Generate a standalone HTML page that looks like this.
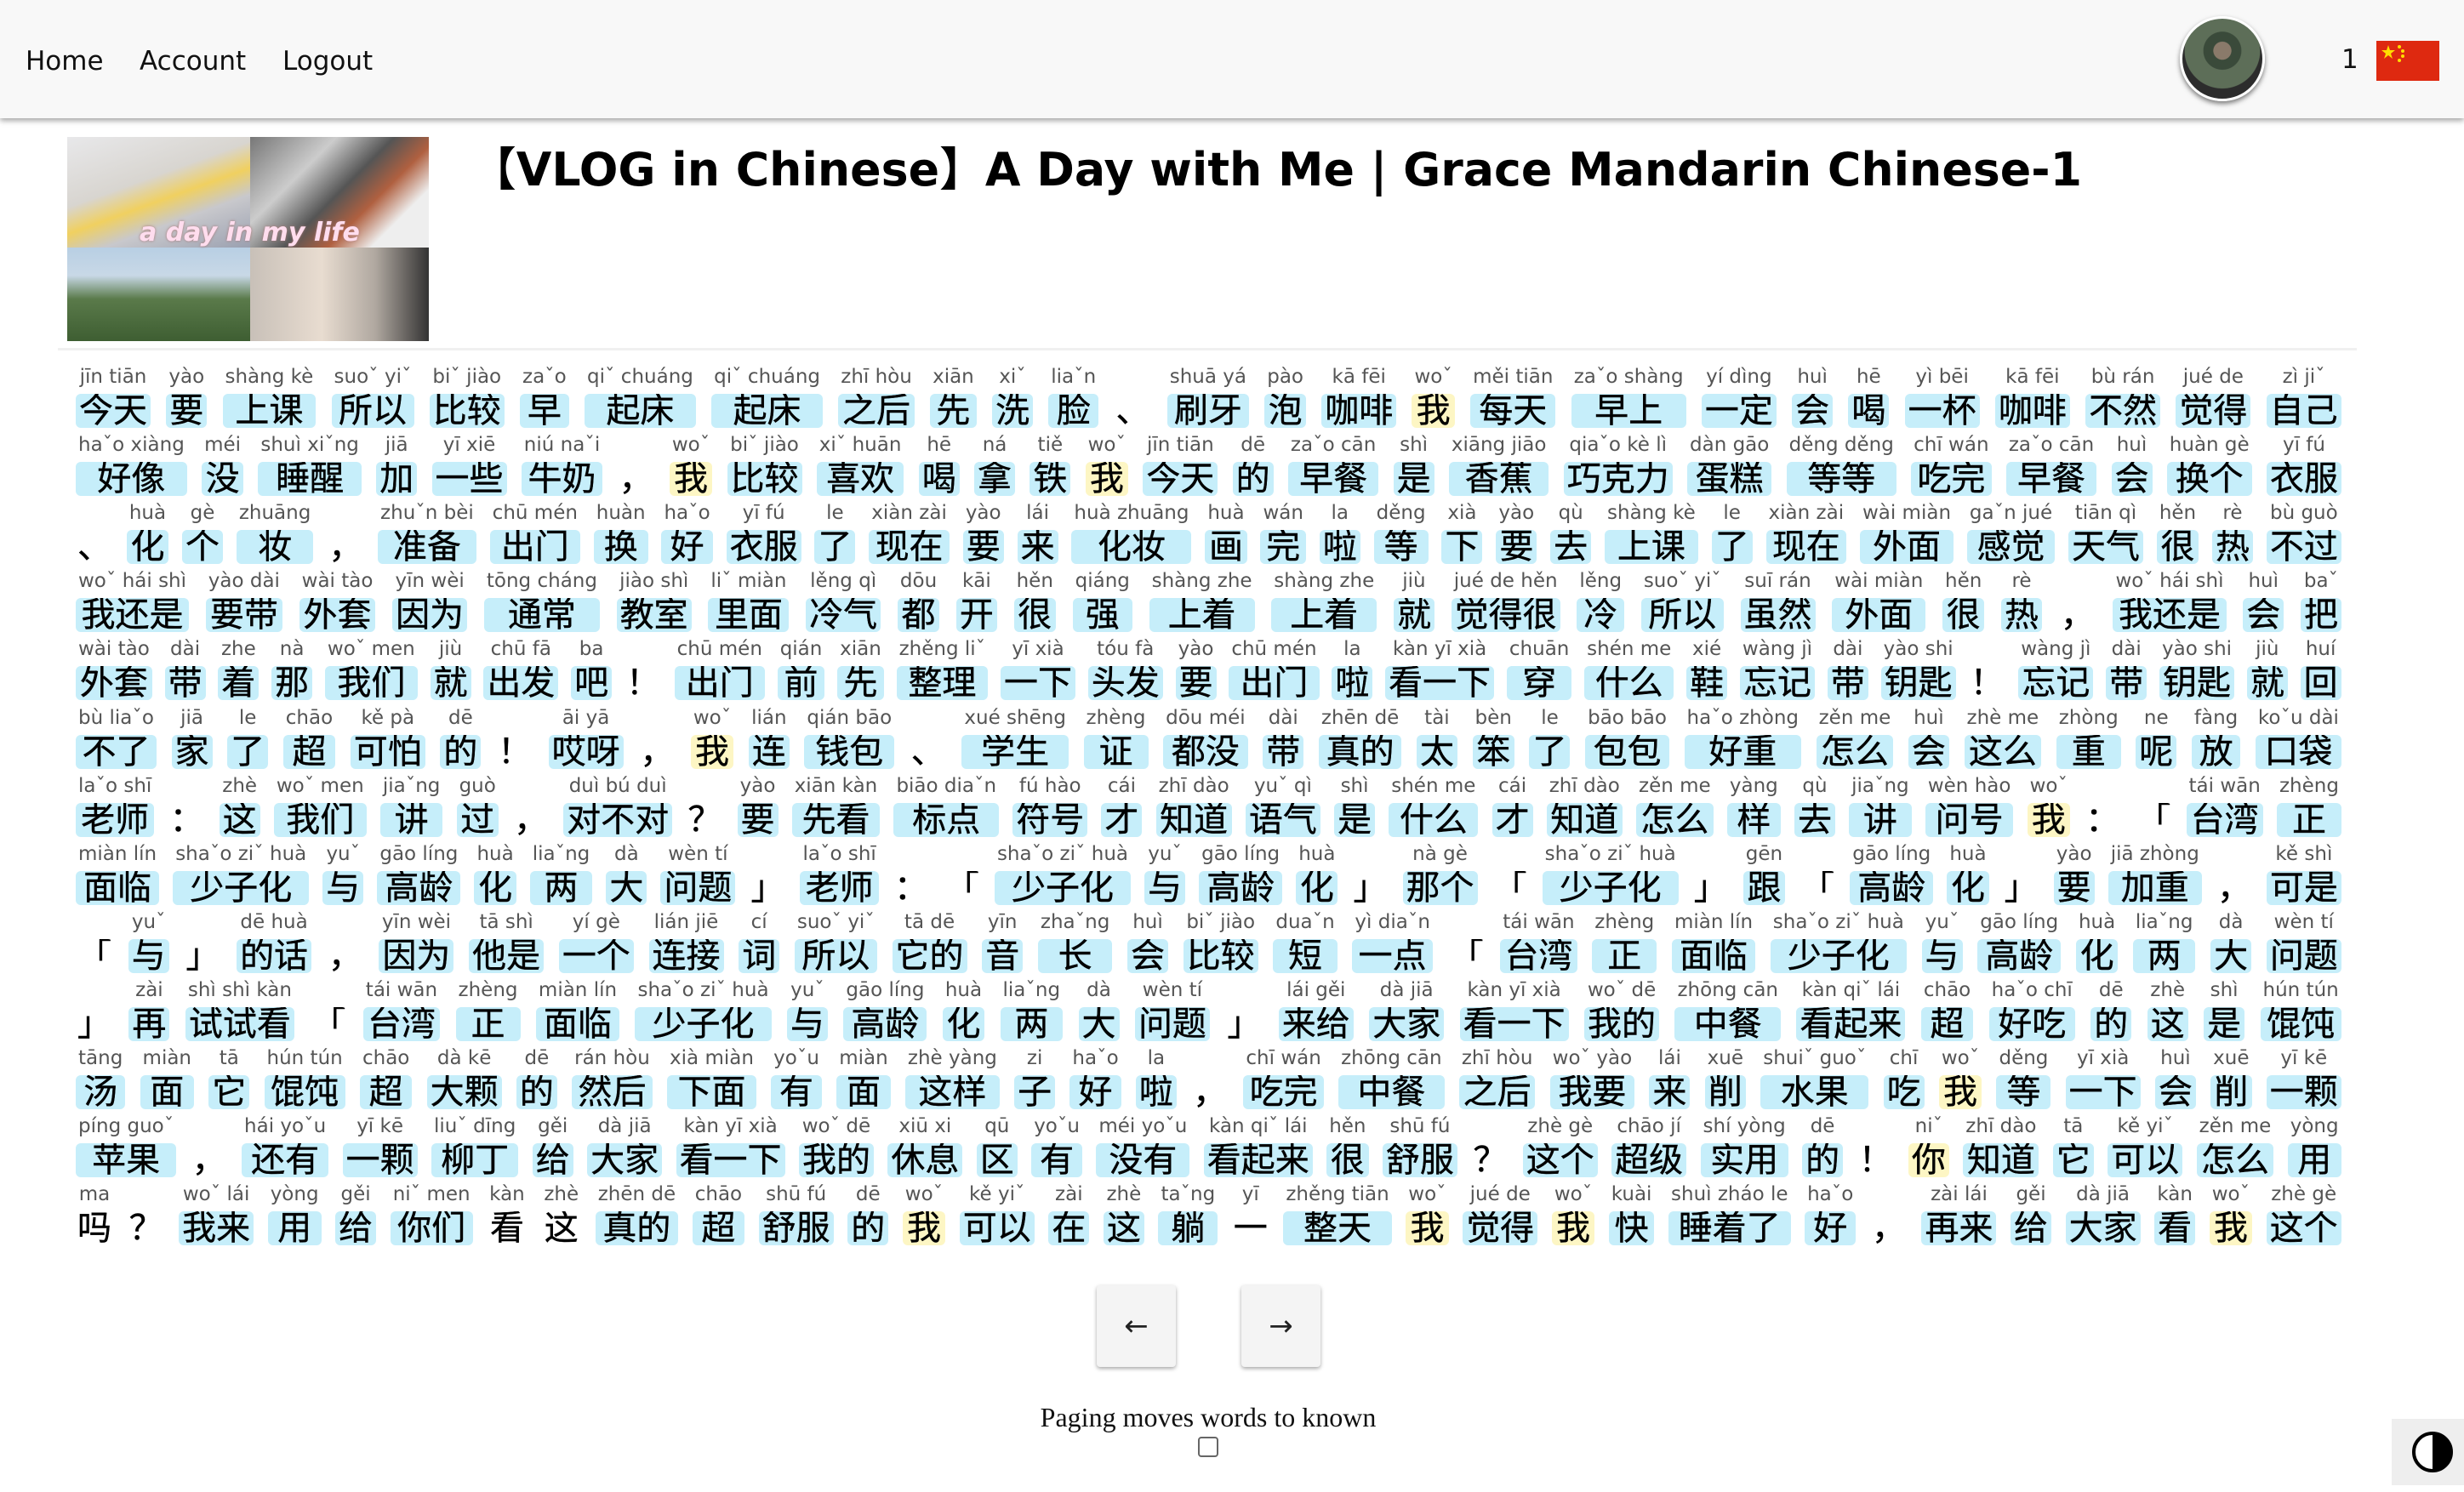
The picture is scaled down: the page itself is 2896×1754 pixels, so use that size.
<!DOCTYPE html>
<html><head><meta charset="utf-8">
<style>
*{box-sizing:border-box;margin:0;padding:0}
html,body{width:2896px;height:1754px;overflow:hidden;background:#fff;position:relative;font-family:"DejaVu Sans","Liberation Sans",sans-serif}
#hdr{position:absolute;left:0;top:0;width:2896px;height:139px;background:#f8f8f8;box-shadow:0 3px 6px rgba(0,0,0,.35)}
.nav{position:absolute;top:54px;font:31px "DejaVu Sans",sans-serif;color:#111;text-decoration:none}
#avatar{position:absolute;left:2562px;top:19px;width:100px;height:100px;border-radius:50%;background:radial-gradient(circle at 50% 40%,#8a7a6a 0 14%,#3a4a3a 15% 30%,#5d6e58 31% 60%,#2c2c2c 61%);border:3px solid #fff;box-shadow:0 3px 6px rgba(0,0,0,.5)}
#count{position:absolute;left:2752px;top:52px;font:31px "DejaVu Sans",sans-serif;color:#111}
#flag{position:absolute;left:2793px;top:48px;width:74px;height:47px;background:#de2910}
#thumb{position:absolute;left:79px;top:161px;width:425px;height:240px;overflow:hidden;background:#ddd}
#sep{position:absolute;left:68px;top:409px;width:2702px;height:3px;background:#f0f0f0}
.row{position:absolute;left:89px;width:2663px;height:80px;display:flex;justify-content:space-between}
.w{display:flex;flex-direction:column;align-items:center}
.w i{font-style:normal;font-family:"DejaVu Sans",sans-serif;font-size:23px;color:#555;height:37px;line-height:37px;white-space:nowrap;padding:0 3px}
.w b{font-weight:normal;font-family:"Liberation Sans","Noto Sans CJK SC",sans-serif;font-size:40px;line-height:40px;height:40px;background:#c6eefa;border-radius:6px;padding:0 4px;align-self:stretch;text-align:center;white-space:nowrap;color:#000;margin-top:1px;overflow:hidden;-webkit-text-stroke:0.4px #000}
.w.y b{background:#fdf6c4}
.w.p b{background:none;padding:0 2px}
.btn{position:absolute;top:1511px;width:93px;height:96px;background:#f4f4f4;border-radius:4px;box-shadow:0 2px 5px rgba(0,0,0,.35);font:34px "DejaVu Sans",sans-serif;text-align:center;line-height:96px;color:#222}
#paging{position:absolute;left:0;width:2840px;top:1648px;text-align:center;font:32px "Liberation Serif",serif;color:#111}
#chk{position:absolute;left:1408px;top:1689px;width:24px;height:24px;border:2px solid #666;border-radius:4px;background:#fff}
#dark{position:absolute;left:2811px;top:1668px;width:85px;height:78px;background:#eee}
#dark span{position:absolute;left:24px;top:15px;width:48px;height:48px;border-radius:50%;border:4px solid #000;background:linear-gradient(90deg,#fff 50%,#000 50%)}
</style></head><body>
<div id="hdr">
<a class="nav" style="left:30px">Home</a>
<a class="nav" style="left:164px">Account</a>
<a class="nav" style="left:332px">Logout</a>
<div id="avatar"></div>
<div id="count">1</div>
<div id="flag"><svg width="74" height="47" viewBox="0 0 74 47"><polygon points="14,5 16,11 22,11 17,15 19,21 14,17 9,21 11,15 6,11 12,11" fill="#ffde00"/><circle cx="27" cy="7" r="2" fill="#ffde00"/><circle cx="31" cy="12" r="2" fill="#ffde00"/><circle cx="31" cy="18" r="2" fill="#ffde00"/><circle cx="27" cy="23" r="2" fill="#ffde00"/></svg></div>
</div>
<div id="thumb">
<div style="position:absolute;left:0;top:0;width:215px;height:130px;background:linear-gradient(160deg,#e8e8ea,#d8d5d0 40%,#f0d060 55%,#c8c8cc 70%,#9aa0b0)"></div>
<div style="position:absolute;left:215px;top:0;width:210px;height:130px;background:linear-gradient(135deg,#777 0,#ccc 30%,#555 50%,#b06040 65%,#eee 80%)"></div>
<div style="position:absolute;left:0;top:130px;width:215px;height:110px;background:linear-gradient(180deg,#b8cfe4,#c8d8e6 30%,#5a7a4a 55%,#3e5e32)"></div>
<div style="position:absolute;left:215px;top:130px;width:210px;height:110px;background:linear-gradient(90deg,#c8c0b8,#e8dcd0 40%,#b0a8a0 70%,#333)"></div>
<div style="position:absolute;left:85px;top:95px;font:italic bold 30px 'DejaVu Sans',sans-serif;color:#fde;text-shadow:0 0 3px #a77">a day in my life</div>
</div>
<svg style="position:absolute;left:0;top:0" width="2896" height="420"><text x="553" y="218" font-family="DejaVu Sans, Noto Sans CJK SC, sans-serif" font-weight="bold" font-size="54" textLength="1894" lengthAdjust="spacingAndGlyphs" fill="#000">【VLOG in Chinese】A Day with Me | Grace Mandarin Chinese-1</text></svg>
<div id="sep"></div>

<div class="row" style="top:425px">
<span class="w"><i>jīn tiān</i><b>今天</b></span>
<span class="w"><i>yào</i><b>要</b></span>
<span class="w"><i>shàng kè</i><b>上课</b></span>
<span class="w"><i>suoˇ yiˇ</i><b>所以</b></span>
<span class="w"><i>biˇ jiào</i><b>比较</b></span>
<span class="w"><i>zaˇo</i><b>早</b></span>
<span class="w"><i>qiˇ chuáng</i><b>起床</b></span>
<span class="w"><i>qiˇ chuáng</i><b>起床</b></span>
<span class="w"><i>zhī hòu</i><b>之后</b></span>
<span class="w"><i>xiān</i><b>先</b></span>
<span class="w"><i>xiˇ</i><b>洗</b></span>
<span class="w"><i>liaˇn</i><b>脸</b></span>
<span class="w p"><i></i><b>、</b></span>
<span class="w"><i>shuā yá</i><b>刷牙</b></span>
<span class="w"><i>pào</i><b>泡</b></span>
<span class="w"><i>kā fēi</i><b>咖啡</b></span>
<span class="w y"><i>woˇ</i><b>我</b></span>
<span class="w"><i>měi tiān</i><b>每天</b></span>
<span class="w"><i>zaˇo shàng</i><b>早上</b></span>
<span class="w"><i>yí dìng</i><b>一定</b></span>
<span class="w"><i>huì</i><b>会</b></span>
<span class="w"><i>hē</i><b>喝</b></span>
<span class="w"><i>yì bēi</i><b>一杯</b></span>
<span class="w"><i>kā fēi</i><b>咖啡</b></span>
<span class="w"><i>bù rán</i><b>不然</b></span>
<span class="w"><i>jué de</i><b>觉得</b></span>
<span class="w"><i>zì jiˇ</i><b>自己</b></span>
</div>

<div class="row" style="top:505px">
<span class="w"><i>haˇo xiàng</i><b>好像</b></span>
<span class="w"><i>méi</i><b>没</b></span>
<span class="w"><i>shuì xiˇng</i><b>睡醒</b></span>
<span class="w"><i>jiā</i><b>加</b></span>
<span class="w"><i>yī xiē</i><b>一些</b></span>
<span class="w"><i>niú naˇi</i><b>牛奶</b></span>
<span class="w p"><i></i><b>，</b></span>
<span class="w y"><i>woˇ</i><b>我</b></span>
<span class="w"><i>biˇ jiào</i><b>比较</b></span>
<span class="w"><i>xiˇ huān</i><b>喜欢</b></span>
<span class="w"><i>hē</i><b>喝</b></span>
<span class="w"><i>ná</i><b>拿</b></span>
<span class="w"><i>tiě</i><b>铁</b></span>
<span class="w y"><i>woˇ</i><b>我</b></span>
<span class="w"><i>jīn tiān</i><b>今天</b></span>
<span class="w"><i>dē</i><b>的</b></span>
<span class="w"><i>zaˇo cān</i><b>早餐</b></span>
<span class="w"><i>shì</i><b>是</b></span>
<span class="w"><i>xiāng jiāo</i><b>香蕉</b></span>
<span class="w"><i>qiaˇo kè lì</i><b>巧克力</b></span>
<span class="w"><i>dàn gāo</i><b>蛋糕</b></span>
<span class="w"><i>děng děng</i><b>等等</b></span>
<span class="w"><i>chī wán</i><b>吃完</b></span>
<span class="w"><i>zaˇo cān</i><b>早餐</b></span>
<span class="w"><i>huì</i><b>会</b></span>
<span class="w"><i>huàn gè</i><b>换个</b></span>
<span class="w"><i>yī fú</i><b>衣服</b></span>
</div>

<div class="row" style="top:585px">
<span class="w p"><i></i><b>、</b></span>
<span class="w"><i>huà</i><b>化</b></span>
<span class="w"><i>gè</i><b>个</b></span>
<span class="w"><i>zhuāng</i><b>妆</b></span>
<span class="w p"><i></i><b>，</b></span>
<span class="w"><i>zhuˇn bèi</i><b>准备</b></span>
<span class="w"><i>chū mén</i><b>出门</b></span>
<span class="w"><i>huàn</i><b>换</b></span>
<span class="w"><i>haˇo</i><b>好</b></span>
<span class="w"><i>yī fú</i><b>衣服</b></span>
<span class="w"><i>le</i><b>了</b></span>
<span class="w"><i>xiàn zài</i><b>现在</b></span>
<span class="w"><i>yào</i><b>要</b></span>
<span class="w"><i>lái</i><b>来</b></span>
<span class="w"><i>huà zhuāng</i><b>化妆</b></span>
<span class="w"><i>huà</i><b>画</b></span>
<span class="w"><i>wán</i><b>完</b></span>
<span class="w"><i>la</i><b>啦</b></span>
<span class="w"><i>děng</i><b>等</b></span>
<span class="w"><i>xià</i><b>下</b></span>
<span class="w"><i>yào</i><b>要</b></span>
<span class="w"><i>qù</i><b>去</b></span>
<span class="w"><i>shàng kè</i><b>上课</b></span>
<span class="w"><i>le</i><b>了</b></span>
<span class="w"><i>xiàn zài</i><b>现在</b></span>
<span class="w"><i>wài miàn</i><b>外面</b></span>
<span class="w"><i>gaˇn jué</i><b>感觉</b></span>
<span class="w"><i>tiān qì</i><b>天气</b></span>
<span class="w"><i>hěn</i><b>很</b></span>
<span class="w"><i>rè</i><b>热</b></span>
<span class="w"><i>bù guò</i><b>不过</b></span>
</div>

<div class="row" style="top:665px">
<span class="w"><i>woˇ hái shì</i><b>我还是</b></span>
<span class="w"><i>yào dài</i><b>要带</b></span>
<span class="w"><i>wài tào</i><b>外套</b></span>
<span class="w"><i>yīn wèi</i><b>因为</b></span>
<span class="w"><i>tōng cháng</i><b>通常</b></span>
<span class="w"><i>jiào shì</i><b>教室</b></span>
<span class="w"><i>liˇ miàn</i><b>里面</b></span>
<span class="w"><i>lěng qì</i><b>冷气</b></span>
<span class="w"><i>dōu</i><b>都</b></span>
<span class="w"><i>kāi</i><b>开</b></span>
<span class="w"><i>hěn</i><b>很</b></span>
<span class="w"><i>qiáng</i><b>强</b></span>
<span class="w"><i>shàng zhe</i><b>上着</b></span>
<span class="w"><i>shàng zhe</i><b>上着</b></span>
<span class="w"><i>jiù</i><b>就</b></span>
<span class="w"><i>jué de hěn</i><b>觉得很</b></span>
<span class="w"><i>lěng</i><b>冷</b></span>
<span class="w"><i>suoˇ yiˇ</i><b>所以</b></span>
<span class="w"><i>suī rán</i><b>虽然</b></span>
<span class="w"><i>wài miàn</i><b>外面</b></span>
<span class="w"><i>hěn</i><b>很</b></span>
<span class="w"><i>rè</i><b>热</b></span>
<span class="w p"><i></i><b>，</b></span>
<span class="w"><i>woˇ hái shì</i><b>我还是</b></span>
<span class="w"><i>huì</i><b>会</b></span>
<span class="w"><i>baˇ</i><b>把</b></span>
</div>

<div class="row" style="top:745px">
<span class="w"><i>wài tào</i><b>外套</b></span>
<span class="w"><i>dài</i><b>带</b></span>
<span class="w"><i>zhe</i><b>着</b></span>
<span class="w"><i>nà</i><b>那</b></span>
<span class="w"><i>woˇ men</i><b>我们</b></span>
<span class="w"><i>jiù</i><b>就</b></span>
<span class="w"><i>chū fā</i><b>出发</b></span>
<span class="w"><i>ba</i><b>吧</b></span>
<span class="w p"><i></i><b>！</b></span>
<span class="w"><i>chū mén</i><b>出门</b></span>
<span class="w"><i>qián</i><b>前</b></span>
<span class="w"><i>xiān</i><b>先</b></span>
<span class="w"><i>zhěng liˇ</i><b>整理</b></span>
<span class="w"><i>yī xià</i><b>一下</b></span>
<span class="w"><i>tóu fà</i><b>头发</b></span>
<span class="w"><i>yào</i><b>要</b></span>
<span class="w"><i>chū mén</i><b>出门</b></span>
<span class="w"><i>la</i><b>啦</b></span>
<span class="w"><i>kàn yī xià</i><b>看一下</b></span>
<span class="w"><i>chuān</i><b>穿</b></span>
<span class="w"><i>shén me</i><b>什么</b></span>
<span class="w"><i>xié</i><b>鞋</b></span>
<span class="w"><i>wàng jì</i><b>忘记</b></span>
<span class="w"><i>dài</i><b>带</b></span>
<span class="w"><i>yào shi</i><b>钥匙</b></span>
<span class="w p"><i></i><b>！</b></span>
<span class="w"><i>wàng jì</i><b>忘记</b></span>
<span class="w"><i>dài</i><b>带</b></span>
<span class="w"><i>yào shi</i><b>钥匙</b></span>
<span class="w"><i>jiù</i><b>就</b></span>
<span class="w"><i>huí</i><b>回</b></span>
</div>

<div class="row" style="top:826px">
<span class="w"><i>bù liaˇo</i><b>不了</b></span>
<span class="w"><i>jiā</i><b>家</b></span>
<span class="w"><i>le</i><b>了</b></span>
<span class="w"><i>chāo</i><b>超</b></span>
<span class="w"><i>kě pà</i><b>可怕</b></span>
<span class="w"><i>dē</i><b>的</b></span>
<span class="w p"><i></i><b>！</b></span>
<span class="w"><i>āi yā</i><b>哎呀</b></span>
<span class="w p"><i></i><b>，</b></span>
<span class="w y"><i>woˇ</i><b>我</b></span>
<span class="w"><i>lián</i><b>连</b></span>
<span class="w"><i>qián bāo</i><b>钱包</b></span>
<span class="w p"><i></i><b>、</b></span>
<span class="w"><i>xué shēng</i><b>学生</b></span>
<span class="w"><i>zhèng</i><b>证</b></span>
<span class="w"><i>dōu méi</i><b>都没</b></span>
<span class="w"><i>dài</i><b>带</b></span>
<span class="w"><i>zhēn dē</i><b>真的</b></span>
<span class="w"><i>tài</i><b>太</b></span>
<span class="w"><i>bèn</i><b>笨</b></span>
<span class="w"><i>le</i><b>了</b></span>
<span class="w"><i>bāo bāo</i><b>包包</b></span>
<span class="w"><i>haˇo zhòng</i><b>好重</b></span>
<span class="w"><i>zěn me</i><b>怎么</b></span>
<span class="w"><i>huì</i><b>会</b></span>
<span class="w"><i>zhè me</i><b>这么</b></span>
<span class="w"><i>zhòng</i><b>重</b></span>
<span class="w"><i>ne</i><b>呢</b></span>
<span class="w"><i>fàng</i><b>放</b></span>
<span class="w"><i>koˇu dài</i><b>口袋</b></span>
</div>

<div class="row" style="top:906px">
<span class="w"><i>laˇo shī</i><b>老师</b></span>
<span class="w p"><i></i><b>：</b></span>
<span class="w"><i>zhè</i><b>这</b></span>
<span class="w"><i>woˇ men</i><b>我们</b></span>
<span class="w"><i>jiaˇng</i><b>讲</b></span>
<span class="w"><i>guò</i><b>过</b></span>
<span class="w p"><i></i><b>，</b></span>
<span class="w"><i>duì bú duì</i><b>对不对</b></span>
<span class="w p"><i></i><b>？</b></span>
<span class="w"><i>yào</i><b>要</b></span>
<span class="w"><i>xiān kàn</i><b>先看</b></span>
<span class="w"><i>biāo diaˇn</i><b>标点</b></span>
<span class="w"><i>fú hào</i><b>符号</b></span>
<span class="w"><i>cái</i><b>才</b></span>
<span class="w"><i>zhī dào</i><b>知道</b></span>
<span class="w"><i>yuˇ qì</i><b>语气</b></span>
<span class="w"><i>shì</i><b>是</b></span>
<span class="w"><i>shén me</i><b>什么</b></span>
<span class="w"><i>cái</i><b>才</b></span>
<span class="w"><i>zhī dào</i><b>知道</b></span>
<span class="w"><i>zěn me</i><b>怎么</b></span>
<span class="w"><i>yàng</i><b>样</b></span>
<span class="w"><i>qù</i><b>去</b></span>
<span class="w"><i>jiaˇng</i><b>讲</b></span>
<span class="w"><i>wèn hào</i><b>问号</b></span>
<span class="w y"><i>woˇ</i><b>我</b></span>
<span class="w p"><i></i><b>：</b></span>
<span class="w p"><i></i><b>「</b></span>
<span class="w"><i>tái wān</i><b>台湾</b></span>
<span class="w"><i>zhèng</i><b>正</b></span>
</div>

<div class="row" style="top:986px">
<span class="w"><i>miàn lín</i><b>面临</b></span>
<span class="w"><i>shaˇo ziˇ huà</i><b>少子化</b></span>
<span class="w"><i>yuˇ</i><b>与</b></span>
<span class="w"><i>gāo líng</i><b>高龄</b></span>
<span class="w"><i>huà</i><b>化</b></span>
<span class="w"><i>liaˇng</i><b>两</b></span>
<span class="w"><i>dà</i><b>大</b></span>
<span class="w"><i>wèn tí</i><b>问题</b></span>
<span class="w p"><i></i><b>」</b></span>
<span class="w"><i>laˇo shī</i><b>老师</b></span>
<span class="w p"><i></i><b>：</b></span>
<span class="w p"><i></i><b>「</b></span>
<span class="w"><i>shaˇo ziˇ huà</i><b>少子化</b></span>
<span class="w"><i>yuˇ</i><b>与</b></span>
<span class="w"><i>gāo líng</i><b>高龄</b></span>
<span class="w"><i>huà</i><b>化</b></span>
<span class="w p"><i></i><b>」</b></span>
<span class="w"><i>nà gè</i><b>那个</b></span>
<span class="w p"><i></i><b>「</b></span>
<span class="w"><i>shaˇo ziˇ huà</i><b>少子化</b></span>
<span class="w p"><i></i><b>」</b></span>
<span class="w"><i>gēn</i><b>跟</b></span>
<span class="w p"><i></i><b>「</b></span>
<span class="w"><i>gāo líng</i><b>高龄</b></span>
<span class="w"><i>huà</i><b>化</b></span>
<span class="w p"><i></i><b>」</b></span>
<span class="w"><i>yào</i><b>要</b></span>
<span class="w"><i>jiā zhòng</i><b>加重</b></span>
<span class="w p"><i></i><b>，</b></span>
<span class="w"><i>kě shì</i><b>可是</b></span>
</div>

<div class="row" style="top:1066px">
<span class="w p"><i></i><b>「</b></span>
<span class="w"><i>yuˇ</i><b>与</b></span>
<span class="w p"><i></i><b>」</b></span>
<span class="w"><i>dē huà</i><b>的话</b></span>
<span class="w p"><i></i><b>，</b></span>
<span class="w"><i>yīn wèi</i><b>因为</b></span>
<span class="w"><i>tā shì</i><b>他是</b></span>
<span class="w"><i>yí gè</i><b>一个</b></span>
<span class="w"><i>lián jiē</i><b>连接</b></span>
<span class="w"><i>cí</i><b>词</b></span>
<span class="w"><i>suoˇ yiˇ</i><b>所以</b></span>
<span class="w"><i>tā dē</i><b>它的</b></span>
<span class="w"><i>yīn</i><b>音</b></span>
<span class="w"><i>zhaˇng</i><b>长</b></span>
<span class="w"><i>huì</i><b>会</b></span>
<span class="w"><i>biˇ jiào</i><b>比较</b></span>
<span class="w"><i>duaˇn</i><b>短</b></span>
<span class="w"><i>yì diaˇn</i><b>一点</b></span>
<span class="w p"><i></i><b>「</b></span>
<span class="w"><i>tái wān</i><b>台湾</b></span>
<span class="w"><i>zhèng</i><b>正</b></span>
<span class="w"><i>miàn lín</i><b>面临</b></span>
<span class="w"><i>shaˇo ziˇ huà</i><b>少子化</b></span>
<span class="w"><i>yuˇ</i><b>与</b></span>
<span class="w"><i>gāo líng</i><b>高龄</b></span>
<span class="w"><i>huà</i><b>化</b></span>
<span class="w"><i>liaˇng</i><b>两</b></span>
<span class="w"><i>dà</i><b>大</b></span>
<span class="w"><i>wèn tí</i><b>问题</b></span>
</div>

<div class="row" style="top:1146px">
<span class="w p"><i></i><b>」</b></span>
<span class="w"><i>zài</i><b>再</b></span>
<span class="w"><i>shì shì kàn</i><b>试试看</b></span>
<span class="w p"><i></i><b>「</b></span>
<span class="w"><i>tái wān</i><b>台湾</b></span>
<span class="w"><i>zhèng</i><b>正</b></span>
<span class="w"><i>miàn lín</i><b>面临</b></span>
<span class="w"><i>shaˇo ziˇ huà</i><b>少子化</b></span>
<span class="w"><i>yuˇ</i><b>与</b></span>
<span class="w"><i>gāo líng</i><b>高龄</b></span>
<span class="w"><i>huà</i><b>化</b></span>
<span class="w"><i>liaˇng</i><b>两</b></span>
<span class="w"><i>dà</i><b>大</b></span>
<span class="w"><i>wèn tí</i><b>问题</b></span>
<span class="w p"><i></i><b>」</b></span>
<span class="w"><i>lái gěi</i><b>来给</b></span>
<span class="w"><i>dà jiā</i><b>大家</b></span>
<span class="w"><i>kàn yī xià</i><b>看一下</b></span>
<span class="w"><i>woˇ dē</i><b>我的</b></span>
<span class="w"><i>zhōng cān</i><b>中餐</b></span>
<span class="w"><i>kàn qiˇ lái</i><b>看起来</b></span>
<span class="w"><i>chāo</i><b>超</b></span>
<span class="w"><i>haˇo chī</i><b>好吃</b></span>
<span class="w"><i>dē</i><b>的</b></span>
<span class="w"><i>zhè</i><b>这</b></span>
<span class="w"><i>shì</i><b>是</b></span>
<span class="w"><i>hún tún</i><b>馄饨</b></span>
</div>

<div class="row" style="top:1226px">
<span class="w"><i>tāng</i><b>汤</b></span>
<span class="w"><i>miàn</i><b>面</b></span>
<span class="w"><i>tā</i><b>它</b></span>
<span class="w"><i>hún tún</i><b>馄饨</b></span>
<span class="w"><i>chāo</i><b>超</b></span>
<span class="w"><i>dà kē</i><b>大颗</b></span>
<span class="w"><i>dē</i><b>的</b></span>
<span class="w"><i>rán hòu</i><b>然后</b></span>
<span class="w"><i>xià miàn</i><b>下面</b></span>
<span class="w"><i>yoˇu</i><b>有</b></span>
<span class="w"><i>miàn</i><b>面</b></span>
<span class="w"><i>zhè yàng</i><b>这样</b></span>
<span class="w"><i>zi</i><b>子</b></span>
<span class="w"><i>haˇo</i><b>好</b></span>
<span class="w"><i>la</i><b>啦</b></span>
<span class="w p"><i></i><b>，</b></span>
<span class="w"><i>chī wán</i><b>吃完</b></span>
<span class="w"><i>zhōng cān</i><b>中餐</b></span>
<span class="w"><i>zhī hòu</i><b>之后</b></span>
<span class="w"><i>woˇ yào</i><b>我要</b></span>
<span class="w"><i>lái</i><b>来</b></span>
<span class="w"><i>xuē</i><b>削</b></span>
<span class="w"><i>shuiˇ guoˇ</i><b>水果</b></span>
<span class="w"><i>chī</i><b>吃</b></span>
<span class="w y"><i>woˇ</i><b>我</b></span>
<span class="w"><i>děng</i><b>等</b></span>
<span class="w"><i>yī xià</i><b>一下</b></span>
<span class="w"><i>huì</i><b>会</b></span>
<span class="w"><i>xuē</i><b>削</b></span>
<span class="w"><i>yī kē</i><b>一颗</b></span>
</div>

<div class="row" style="top:1306px">
<span class="w"><i>píng guoˇ</i><b>苹果</b></span>
<span class="w p"><i></i><b>，</b></span>
<span class="w"><i>hái yoˇu</i><b>还有</b></span>
<span class="w"><i>yī kē</i><b>一颗</b></span>
<span class="w"><i>liuˇ dīng</i><b>柳丁</b></span>
<span class="w"><i>gěi</i><b>给</b></span>
<span class="w"><i>dà jiā</i><b>大家</b></span>
<span class="w"><i>kàn yī xià</i><b>看一下</b></span>
<span class="w"><i>woˇ dē</i><b>我的</b></span>
<span class="w"><i>xiū xi</i><b>休息</b></span>
<span class="w"><i>qū</i><b>区</b></span>
<span class="w"><i>yoˇu</i><b>有</b></span>
<span class="w"><i>méi yoˇu</i><b>没有</b></span>
<span class="w"><i>kàn qiˇ lái</i><b>看起来</b></span>
<span class="w"><i>hěn</i><b>很</b></span>
<span class="w"><i>shū fú</i><b>舒服</b></span>
<span class="w p"><i></i><b>？</b></span>
<span class="w"><i>zhè gè</i><b>这个</b></span>
<span class="w"><i>chāo jí</i><b>超级</b></span>
<span class="w"><i>shí yòng</i><b>实用</b></span>
<span class="w"><i>dē</i><b>的</b></span>
<span class="w p"><i></i><b>！</b></span>
<span class="w y"><i>niˇ</i><b>你</b></span>
<span class="w"><i>zhī dào</i><b>知道</b></span>
<span class="w"><i>tā</i><b>它</b></span>
<span class="w"><i>kě yiˇ</i><b>可以</b></span>
<span class="w"><i>zěn me</i><b>怎么</b></span>
<span class="w"><i>yòng</i><b>用</b></span>
</div>

<div class="row" style="top:1386px">
<span class="w p"><i>ma</i><b>吗</b></span>
<span class="w p"><i></i><b>？</b></span>
<span class="w"><i>woˇ lái</i><b>我来</b></span>
<span class="w"><i>yòng</i><b>用</b></span>
<span class="w"><i>gěi</i><b>给</b></span>
<span class="w"><i>niˇ men</i><b>你们</b></span>
<span class="w p"><i>kàn</i><b>看</b></span>
<span class="w p"><i>zhè</i><b>这</b></span>
<span class="w"><i>zhēn dē</i><b>真的</b></span>
<span class="w"><i>chāo</i><b>超</b></span>
<span class="w"><i>shū fú</i><b>舒服</b></span>
<span class="w"><i>dē</i><b>的</b></span>
<span class="w y"><i>woˇ</i><b>我</b></span>
<span class="w"><i>kě yiˇ</i><b>可以</b></span>
<span class="w"><i>zài</i><b>在</b></span>
<span class="w"><i>zhè</i><b>这</b></span>
<span class="w"><i>taˇng</i><b>躺</b></span>
<span class="w p"><i>yī</i><b>一</b></span>
<span class="w"><i>zhěng tiān</i><b>整天</b></span>
<span class="w y"><i>woˇ</i><b>我</b></span>
<span class="w"><i>jué de</i><b>觉得</b></span>
<span class="w y"><i>woˇ</i><b>我</b></span>
<span class="w"><i>kuài</i><b>快</b></span>
<span class="w"><i>shuì zháo le</i><b>睡着了</b></span>
<span class="w"><i>haˇo</i><b>好</b></span>
<span class="w p"><i></i><b>，</b></span>
<span class="w"><i>zài lái</i><b>再来</b></span>
<span class="w"><i>gěi</i><b>给</b></span>
<span class="w"><i>dà jiā</i><b>大家</b></span>
<span class="w"><i>kàn</i><b>看</b></span>
<span class="w y"><i>woˇ</i><b>我</b></span>
<span class="w"><i>zhè gè</i><b>这个</b></span>
</div>

<div class="btn" style="left:1289px">←</div>
<div class="btn" style="left:1459px">→</div>
<div id="paging">Paging moves words to known</div>
<div id="chk"></div>
<div id="dark"><span></span></div>
</body></html>
